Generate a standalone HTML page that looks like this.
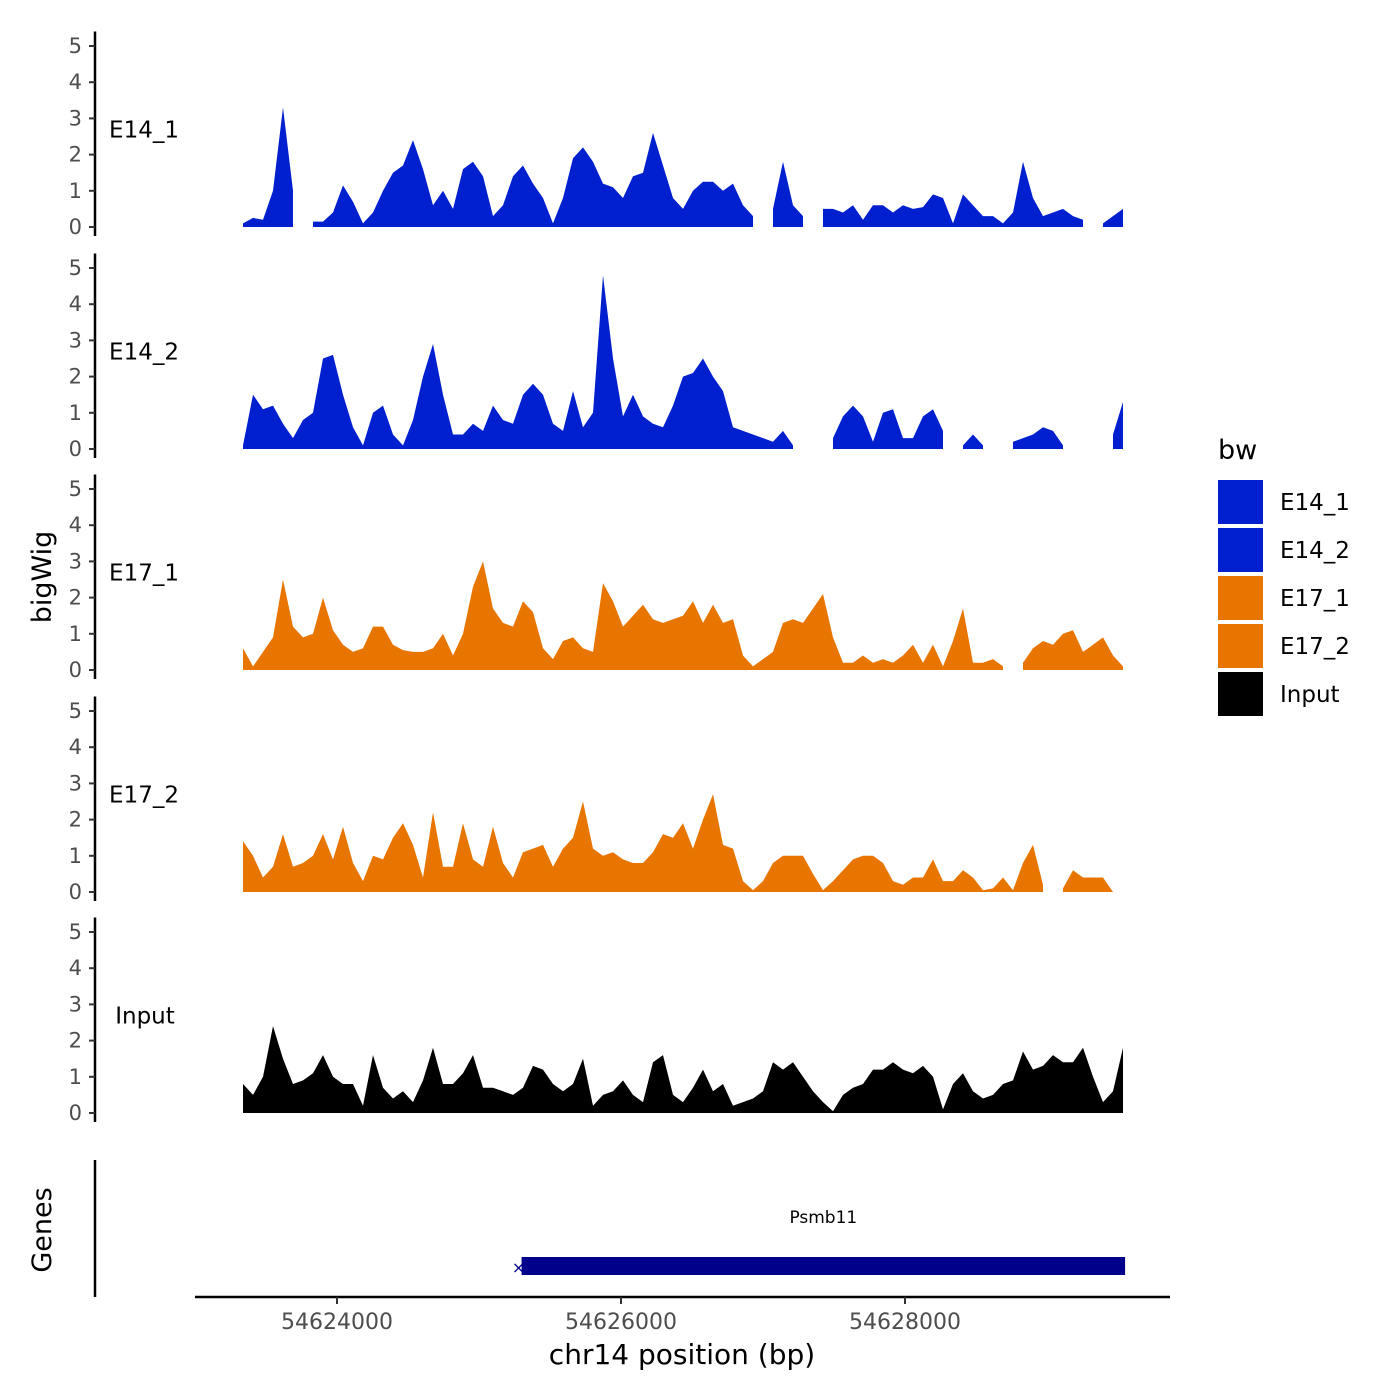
<!DOCTYPE html>
<html><head><meta charset="utf-8"><style>
body{margin:0;background:#fff}
svg{display:block;font-family:"DejaVu Sans","Liberation Sans",sans-serif}
</style></head><body>
<svg id="chart" width="1400" height="1400" viewBox="0 0 1400 1400">
<g id="panels"></g>
<g id="genes">
<line x1="95" y1="1160" x2="95" y2="1297" stroke="#000" stroke-width="2.5"/>
<text x="51" y="1230" font-size="27" transform="rotate(-90 51 1230)" text-anchor="middle">Genes</text>
<rect id="geneBar" y="1257" height="18" fill="#00008B"/>
<text id="geneLabel" y="1223" font-size="17" text-anchor="middle">Psmb11</text>
<text id="geneStart" y="1273" font-size="16" fill="#00008B" text-anchor="middle">×</text>
</g>
<g id="xaxis">
<line x1="195" y1="1297" x2="1170" y2="1297" stroke="#000" stroke-width="2.5"/>
</g>
<text x="682" y="1364" font-size="28" text-anchor="middle">chr14 position (bp)</text>
<text x="51" y="577" font-size="27" transform="rotate(-90 51 577)" text-anchor="middle">bigWig</text>
<g id="legend">
<text x="1218" y="459" font-size="27">bw</text>
</g>
</svg>
<script>
const trackNames = ["E14_1","E14_2","E17_1","E17_2","Input"];
const trackColors = ["#0020CF","#0020CF","#E87500","#E87500","#000000"];
const yTicks = [0,1,2,3,4,5];
const xTicks = [54624000,54626000,54628000];
const startBp = 54623338;
const stepBp = 70.42;
const N = null;
const e14_1 = [0.1,0.25,0.2,1.0,3.3,1.0,N,0.15,0.15,0.4,1.15,0.7,0.1,0.4,1.0,1.5,1.7,2.4,1.6,0.6,1.0,0.5,1.6,1.8,1.4,0.3,0.6,1.4,1.7,1.2,0.8,0.1,0.8,1.9,2.2,1.8,1.2,1.1,0.8,1.4,1.5,2.6,1.7,0.8,0.5,1.0,1.25,1.25,1.0,1.2,0.6,0.3,N,0.5,1.8,0.6,0.3,N,0.5,0.5,0.4,0.6,0.2,0.6,0.6,0.4,0.6,0.5,0.55,0.9,0.8,0.1,0.9,0.6,0.3,0.3,0.1,0.4,1.8,0.8,0.3,0.4,0.5,0.3,0.2,N,0.1,0.3,0.5];
const e14_2 = [0.1,1.5,1.1,1.2,0.7,0.3,0.8,1.0,2.5,2.6,1.5,0.6,0.1,1.0,1.2,0.4,0.1,0.8,2.0,2.9,1.5,0.4,0.4,0.7,0.5,1.2,0.8,0.7,1.5,1.8,1.5,0.7,0.5,1.6,0.6,1.0,4.8,2.5,0.9,1.5,0.9,0.7,0.6,1.2,2.0,2.1,2.5,2.0,1.6,0.6,0.5,0.4,0.3,0.2,0.5,0.1,N,N,N,0.3,0.9,1.2,0.9,0.2,1.0,1.1,0.3,0.3,0.9,1.1,0.5,N,0.1,0.4,0.1,N,N,0.2,0.3,0.4,0.6,0.5,0.1,N,N,N,N,0.4,1.3];
const e17_1 = [0.6,0.1,0.5,0.9,2.5,1.2,0.9,1.0,2.0,1.1,0.7,0.5,0.6,1.2,1.2,0.7,0.55,0.5,0.5,0.6,1.0,0.4,1.0,2.3,3.0,1.7,1.3,1.2,1.9,1.6,0.6,0.3,0.8,0.9,0.6,0.5,2.4,1.9,1.2,1.5,1.8,1.4,1.3,1.4,1.5,1.9,1.3,1.8,1.3,1.4,0.4,0.1,0.3,0.5,1.3,1.4,1.3,1.7,2.1,0.9,0.2,0.2,0.4,0.2,0.3,0.2,0.4,0.7,0.2,0.7,0.1,0.8,1.7,0.2,0.2,0.3,0.1,N,0.2,0.6,0.8,0.7,1.0,1.1,0.5,0.7,0.9,0.4,0.1];
const e17_2 = [1.4,1.0,0.4,0.7,1.6,0.7,0.8,1.0,1.6,0.9,1.8,0.8,0.3,1.0,0.9,1.5,1.9,1.3,0.4,2.2,0.7,0.7,1.9,0.9,0.7,1.8,0.8,0.4,1.1,1.2,1.3,0.7,1.2,1.5,2.5,1.2,1.0,1.1,0.9,0.8,0.8,1.1,1.6,1.5,1.9,1.2,2.0,2.7,1.3,1.2,0.3,0.05,0.3,0.8,1.0,1.0,1.0,0.5,0.05,0.3,0.6,0.9,1.0,1.0,0.8,0.3,0.2,0.4,0.4,0.9,0.3,0.3,0.6,0.4,0.05,0.1,0.4,0.05,0.8,1.3,0.2,N,0.1,0.6,0.4,0.4,0.4,0.0,N];
const input = [0.8,0.5,1.0,2.4,1.5,0.8,0.9,1.1,1.6,1.0,0.8,0.8,0.2,1.6,0.7,0.4,0.6,0.3,0.9,1.8,0.8,0.8,1.1,1.6,0.7,0.7,0.6,0.5,0.7,1.3,1.2,0.8,0.6,0.8,1.5,0.2,0.5,0.6,0.9,0.5,0.3,1.4,1.6,0.5,0.3,0.7,1.2,0.6,0.8,0.2,0.3,0.4,0.6,1.4,1.2,1.4,1.0,0.6,0.3,0.05,0.5,0.7,0.8,1.2,1.2,1.4,1.2,1.1,1.3,1.0,0.1,0.8,1.1,0.6,0.4,0.5,0.8,0.9,1.7,1.2,1.3,1.6,1.4,1.4,1.8,1.0,0.3,0.6,1.8];
const seriesValues = [e14_1,e14_2,e17_1,e17_2,input];
const geneStartBp = 54625300, geneEndBp = 54629550;

const NS="http://www.w3.org/2000/svg";
function mk(tag,attrs,parent){const e=document.createElementNS(NS,tag);for(const k in attrs)e.setAttribute(k,attrs[k]);parent.appendChild(e);return e;}
const xScale = bp => 337 + (bp-54624000)*0.142;
const baselines=[227,449,670,892,1113];
const unit=36.2;
const panels=document.getElementById('panels');
trackNames.forEach((name,p)=>{
  const g=mk('g',{},panels);
  
  
  const b=baselines[p];
  const yS=v=>b-v*unit;
  const ax=mk('line',{x1:95,x2:95,y1:yS(5.4),y2:b+9,stroke:'#000','stroke-width':2.5},g);
  
  
  yTicks.forEach(t=>{
    const tl=mk('line',{x1:89,x2:95,y1:yS(t),y2:yS(t),stroke:'#333','stroke-width':2},g);
    
    
    const tx=mk('text',{x:82,y:yS(t)+7,'font-size':21,fill:'#4D4D4D','text-anchor':'end'},g);
    tx.textContent=t;
    
    
  });
  const lab=mk('text',{x:name==='Input'?145:144,y:yS(2.7)+8,'font-size':23,'text-anchor':'middle'},g);
  lab.textContent=name;
  
  
  const vals=seriesValues[p];
  let seg=[];
  const flush=()=>{
    if(seg.length>1){
      let d='M'+seg[0][0]+','+b;
      seg.forEach(([x,v])=>{d+=' L'+x.toFixed(1)+','+yS(v).toFixed(1);});
      d+=' L'+seg[seg.length-1][0].toFixed(1)+','+b+' Z';
      const a=mk('path',{d:d,fill:trackColors[p]},g);
      
      
    }
    seg=[];
  };
  vals.forEach((v,i)=>{
    const x=xScale(startBp+i*stepBp);
    if(v===null)flush();else seg.push([x,v]);
  });
  flush();
});
const xa=document.getElementById('xaxis');
xTicks.forEach(t=>{
  const x=xScale(t);
  const l=mk('line',{x1:x,x2:x,y1:1297,y2:1304,stroke:'#333','stroke-width':2},xa);
  
  
  const tx=mk('text',{x:x,y:1329,'font-size':22,fill:'#4D4D4D','text-anchor':'middle'},xa);
  tx.textContent=t;
  
  
});
const gs=xScale(geneStartBp), ge=xScale(geneEndBp);
const gb=document.getElementById('geneBar');
gb.setAttribute('x',gs);gb.setAttribute('width',ge-gs);
document.getElementById('geneLabel').setAttribute('x',(gs+ge)/2);
document.getElementById('geneStart').setAttribute('x',gs-3);
const lg=document.getElementById('legend');
trackNames.forEach((name,i)=>{
  const y=480+i*48;
  const r=mk('rect',{x:1218,y:y,width:45,height:44,fill:trackColors[i]},lg);
  
  
  const t=mk('text',{x:1280,y:y+30,'font-size':23},lg);
  t.textContent=name;
  
  
});
</script>
</body></html>
